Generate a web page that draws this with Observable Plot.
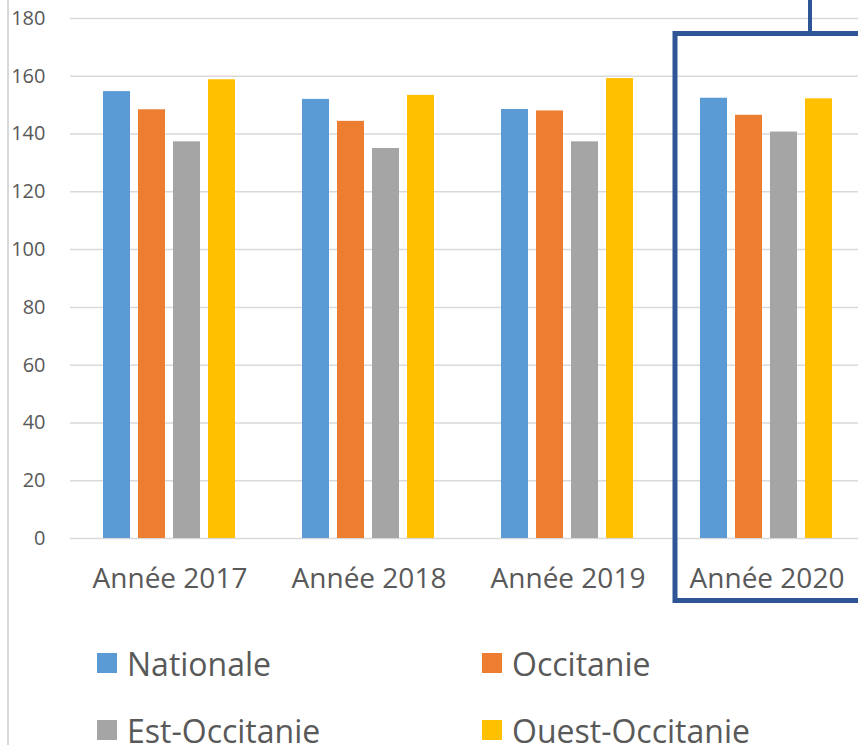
<!DOCTYPE html>
<html><head><meta charset="utf-8">
<script src="https://cdn.jsdelivr.net/npm/d3@7"></script>
<script src="https://cdn.jsdelivr.net/npm/@observablehq/plot@0.6"></script>
<style>
body{margin:0;background:#fff;}
#wrap{position:relative;width:858px;height:745px;overflow:hidden;font-family:"Open Sans",sans-serif;}
#wrap svg{display:block;}
#border{position:absolute;left:7px;top:0;width:1.5px;height:745px;background:#d9d9d9;}
.leg{position:absolute;display:flex;align-items:center;font-size:32px;color:#595959;line-height:43.6px;height:43.6px;white-space:nowrap;}
.sw{width:20px;height:20px;margin-right:10px;flex:none;}
g[aria-label="y-axis tick label"]{font-size:20px;}
g[aria-label="fx-axis tick label"]{font-size:28px;}
</style></head><body><div id="wrap"><div id="border"></div></div>
<script>
const years = ["Année 2017", "Année 2018", "Année 2019", "Année 2020"];
const series = ["Nationale", "Occitanie", "Est-Occitanie", "Ouest-Occitanie"];
const colors = ["#5b9bd5", "#ed7d31", "#a5a5a5", "#ffc000"];
const nationale      = [154.7, 152.0, 148.5, 152.4];
const occitanie      = [148.4, 144.4, 148.0, 146.5];
const estOccitanie   = [137.3, 135.0, 137.3, 140.7];
const ouestOccitanie = [158.8, 153.4, 159.2, 152.2];
const yTicks = [0, 20, 40, 60, 80, 100, 120, 140, 160, 180];
const highlighted = ["Année 2020"];

const valuesBySeries = [nationale, occitanie, estOccitanie, ouestOccitanie];
const data = [];
years.forEach((year, i) => {
  series.forEach((s, j) => data.push({year, series: s, value: valuesBySeries[j][i]}));
});

const plot = Plot.plot({
  width: 858,
  height: 615,
  marginLeft: 70,
  marginRight: -8,
  marginTop: 18,
  marginBottom: 77,
  style: {fontFamily: "'Open Sans', sans-serif", background: "transparent", overflow: "visible"},
  fx: {domain: years, padding: 0, label: null},
  x: {domain: series, paddingInner: 0.222, paddingOuter: 0.875, axis: null},
  y: {domain: [0, 180], label: null},
  color: {domain: series, range: colors},
  marks: [
    Plot.ruleY(yTicks, {stroke: "#d9d9d9", strokeWidth: 1.5}),
    Plot.barY(data, {fx: "year", x: "series", y: "value", fill: "series"}),
    Plot.axisY({ticks: yTicks, tickSize: 0, tickPadding: 25, fontSize: 20, fill: "#595959", label: null}),
    Plot.axisFx({anchor: "bottom", tickSize: 0, tickPadding: 30, fontSize: 28, fill: "#595959", label: null}),
    Plot.rect(highlighted, {fx: d => d, fill: "none", stroke: "#2f5597", strokeWidth: 5,
      insetLeft: 8, insetTop: 15.5, insetBottom: -62.5, insetRight: -20}),
    Plot.rect(highlighted, {fx: d => d, fill: "#2f5597",
      insetLeft: 141, insetRight: 54, insetTop: -18, insetBottom: 505})
  ]
});
const wrap = document.getElementById("wrap");
wrap.insertBefore(plot, wrap.firstChild);

const legendPos = [[97, 641.7], [482, 641.7], [97, 708.5], [482, 708.5]];
series.forEach((s, i) => {
  const item = document.createElement("div");
  item.className = "leg";
  item.style.left = legendPos[i][0] + "px";
  item.style.top = legendPos[i][1] + "px";
  const sw = document.createElement("div");
  sw.className = "sw";
  sw.style.background = colors[i];
  item.appendChild(sw);
  item.appendChild(document.createTextNode(s));
  wrap.appendChild(item);
});
</script></body></html>
